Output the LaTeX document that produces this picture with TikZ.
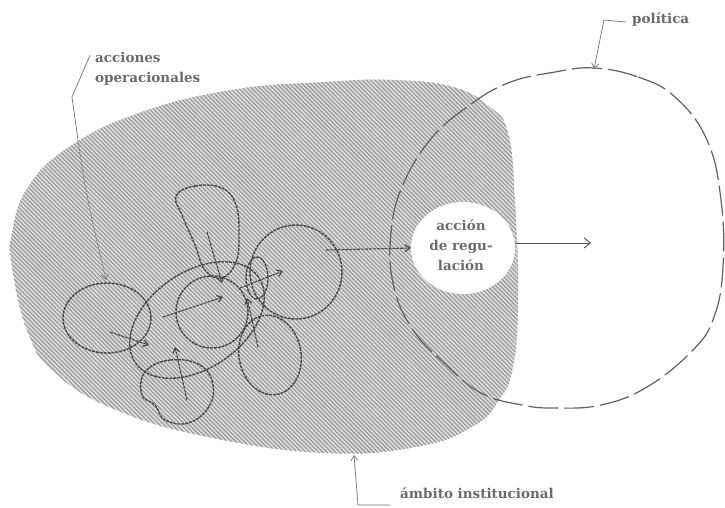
\documentclass[tikz,border=0pt]{standalone}
\usepackage{fontspec}
\setmainfont{DejaVu Serif}
\usetikzlibrary{arrows.meta,patterns.meta,shapes.geometric}
\begin{document}
\begin{tikzpicture}[x=1pt,y=-1pt,
  loopline/.style={draw=black!72, line width=1.4pt, dash pattern=on 3pt off 0.9pt},
  arr/.style={draw=black!72, line width=1.1pt, dash pattern=on 3pt off 0.9pt, -{Straight Barb[length=5pt,width=7pt]}},
  solidarr/.style={draw=black!65, line width=1pt, -{Straight Barb[length=6pt,width=10pt]}},
  lbl/.style={text=black!58, font=\bfseries\fontsize{13.5}{20}\selectfont, inner sep=0pt},
  lead/.style={draw=black!55, line width=0.7pt},
  leadtip/.style={-{Straight Barb[length=5pt,width=7pt]}}]
\useasboundingbox (0,0) rectangle (725,507);
\fill[white] (0,0) rectangle (725,507);

% institutional area (hatched)
\path[fill=black!14, postaction={pattern={Lines[angle=-45,distance=3pt,line width=1.1pt]}, pattern color=black!40}]
  plot[smooth cycle, tension=0.75] coordinates {
  (12,233) (28,187) (69,147) (139,113) (231,90) (324,82) (393,80) (453,87) (490,107) (508,133)
  (515,200) (518,300) (513,367) (499,400) (472,427) (416,447) (324,453) (208,437) (116,410)
  (55,373) (28,333) (12,267)};

% policy outline
\draw[draw=black!62, line width=1.2pt, dash pattern=on 30pt off 6pt]
  plot[smooth cycle, tension=0.7] coordinates {
  (594,68) (638,77) (675,97) (707,140) (721,200) (723,267) (714,317) (693,350) (647,387)
  (601,405) (555,408) (522,405) (481,393) (444,363) (411,327) (393,283) (391,233) (402,187)
  (430,140) (467,107) (508,83) (555,72)};

% regulation action
\node[ellipse, fill=white, minimum width=104pt, minimum height=92pt, inner sep=0pt] (reg) at (463,248) {};
\node[lbl, align=center] (regtxt) at (461,245) {acción\\de regu-\\lación};
\coordinate (regout) at (591,243);
\draw[solidarr] ([yshift=5pt]reg.east) -- (regout);

% operational actions (dashed loops)
\draw[loopline] (107,318) ellipse [x radius=44pt, y radius=35pt];
\draw[loopline, rotate around={35:(197,320)}] (197,320) ellipse [x radius=75pt, y radius=48pt];
\draw[loopline] (212,312) circle [radius=36pt];
\draw[loopline] (257,278) ellipse [x radius=11pt, y radius=21pt];
\draw[loopline] (296,272) ellipse [x radius=46pt, y radius=47pt];
\draw[loopline, rotate around={10:(270,355)}] (270,355) ellipse [x radius=31pt, y radius=40pt];
\draw[loopline] plot[smooth cycle, tension=0.7] coordinates {
  (176,196) (195,186) (222,188) (236,205) (239,235) (236,262) (222,278) (205,270) (195,245) (182,215)};
\draw[loopline] plot[smooth cycle, tension=0.7] coordinates {
  (145,372) (170,360) (200,365) (213,385) (208,408) (188,423) (165,420) (155,405) (142,395)};

% small arrows
\coordinate (a1) at (110,332); \coordinate (a2) at (149,345);
\coordinate (b1) at (163,317); \coordinate (b2) at (223,297);
\coordinate (c1) at (207,232); \coordinate (c2) at (222,283);
\coordinate (d1) at (240,288); \coordinate (d2) at (283,271);
\coordinate (e1) at (258,347); \coordinate (e2) at (247,298);
\coordinate (f1) at (187,400); \coordinate (f2) at (175,347);
\coordinate (g1) at (326,250);
\draw[arr] (a1) -- (a2);
\draw[arr] (b1) -- (b2);
\draw[arr] (c1) -- (c2);
\draw[arr] (d1) -- (d2);
\draw[arr] (e1) -- (e2);
\draw[arr] (f1) -- (f2);
\draw[arr] (g1) -- (reg.west);

% labels and leaders
\node[lbl, anchor=west, align=left] (acc) at (95,69) {acciones\\operacionales};
\coordinate (accbend) at (72,97);
\coordinate (accmid) at (78,140);
\coordinate (acctip) at (106,280);
\draw[lead] ([xshift=-5pt,yshift=-3pt]acc.north west) -- (accbend) -- (accmid);
\draw[lead, dash pattern=on 2pt off 1pt, leadtip] (accmid) .. controls (86,200) and (98,245) .. (acctip);

\node[lbl, anchor=west] (pol) at (632,20) {política};
\coordinate (polhook) at (604,20);
\coordinate (poltop) at (594,69);
\draw[lead, leadtip] ([xshift=-6pt,yshift=-2pt]pol.west) -- (polhook) -- (poltop);

\node[lbl, anchor=west] (amb) at (400,493) {ámbito institucional};
\coordinate (ambend) at (390,505);
\coordinate (ambcorner) at (358,505);
\coordinate (ambtip) at (354,455);
\draw[lead, leadtip] (ambend) -- (ambcorner) -- (ambtip);
\end{tikzpicture}
\end{document}
